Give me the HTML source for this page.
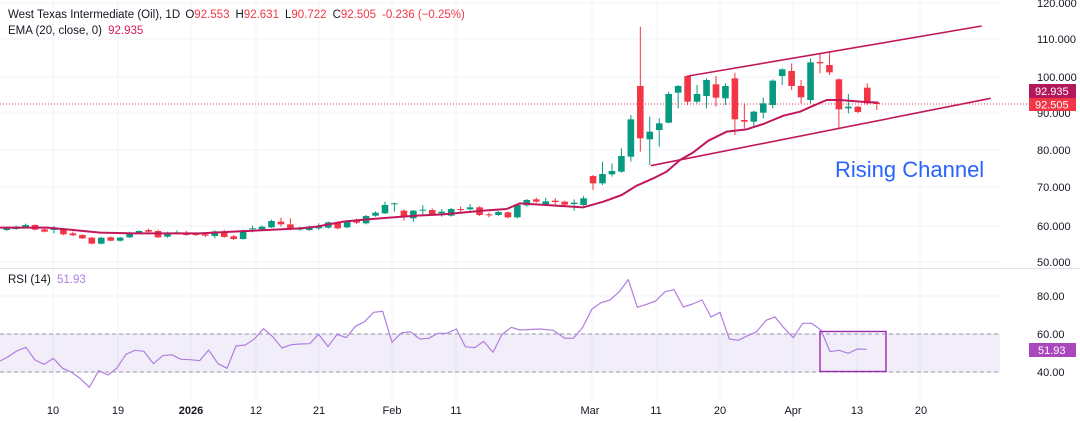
<!DOCTYPE html>
<html><head><meta charset="utf-8">
<style>
html,body{margin:0;padding:0;background:#fff;}
body{width:1080px;height:423px;overflow:hidden;position:relative;font-family:"Liberation Sans",sans-serif;}
svg{position:absolute;left:0;top:0;}
text{font-family:"Liberation Sans",sans-serif;}
</style></head><body>
<svg id="s" width="1080" height="423" viewBox="0 0 1080 423">
<rect width="1080" height="423" fill="#fff"/>
<g id="grid" stroke="#f0f3fa" stroke-width="1"></g>
<line x1="0" y1="268.5" x2="1080" y2="268.5" stroke="#e0e3eb"/>
<rect x="0" y="334" width="1000" height="38" fill="#7e57c2" fill-opacity="0.1"/>
<line x1="0" y1="334" x2="1000" y2="334" stroke="#9598a1" stroke-dasharray="4,3"/>
<line x1="0" y1="372" x2="1000" y2="372" stroke="#9598a1" stroke-dasharray="4,3"/>
<line x1="0" y1="104" x2="1030" y2="104" stroke="#f23645" stroke-dasharray="1,2" stroke-width="1"/>
<g id="candles"></g>
<polyline id="ema" fill="none" stroke="#c2185b" stroke-width="2" stroke-linejoin="round"/>
<line x1="688.3" y1="76" x2="981.7" y2="26" stroke="#c2185b" stroke-width="1.6"/>
<line x1="650.7" y1="165.7" x2="990.7" y2="98.3" stroke="#c2185b" stroke-width="1.6"/>
<text x="835" y="177" font-size="22" fill="#2962ff">Rising Channel</text>
<polyline id="rsi" fill="none" stroke="#b07ee0" stroke-width="1.2" stroke-linejoin="round"/>
<rect x="820" y="331.5" width="66" height="40" fill="none" stroke="#9c27b0" stroke-width="1.4"/>
<g font-size="11" fill="#131722">
<text x="1037" y="7">120.000</text>
<text x="1037" y="43">110.000</text>
<text x="1037" y="81">100.000</text>
<text x="1037" y="117">90.000</text>
<text x="1037" y="154">80.000</text>
<text x="1037" y="191">70.000</text>
<text x="1037" y="230">60.000</text>
<text x="1037" y="266">50.000</text>
<text x="1037" y="300">80.00</text>
<text x="1037" y="338">60.00</text>
<text x="1037" y="376">40.00</text>
</g>
<rect x="1029" y="84" width="47" height="14" fill="#b2185a"/>
<text x="1035" y="95" font-size="11" fill="#fff">92.935</text>
<rect x="1029" y="98" width="47" height="13" fill="#f23645"/>
<text x="1035" y="108.5" font-size="11" fill="#fff">92.505</text>
<rect x="1029" y="343" width="47" height="14" fill="#ab47bc"/>
<text x="1038" y="354" font-size="11" fill="#fff">51.93</text>
<g font-size="11" fill="#131722" text-anchor="middle">
<text x="53" y="414">10</text>
<text x="118" y="414">19</text>
<text x="191" y="414" font-weight="bold">2026</text>
<text x="256" y="414">12</text>
<text x="319" y="414">21</text>
<text x="392" y="414">Feb</text>
<text x="456" y="414">11</text>
<text x="590" y="414">Mar</text>
<text x="656" y="414">11</text>
<text x="720" y="414">20</text>
<text x="793" y="414">Apr</text>
<text x="857" y="414">13</text>
<text x="921" y="414">20</text>
</g>
<g font-size="11.5">
<text x="8" y="18" fill="#131722">West Texas Intermediate (Oil), 1D <tspan dx="2">O</tspan><tspan fill="#f23645">92.553</tspan><tspan dx="6">H</tspan><tspan fill="#f23645">92.631</tspan><tspan dx="6">L</tspan><tspan fill="#f23645">90.722</tspan><tspan dx="6">C</tspan><tspan fill="#f23645">92.505</tspan><tspan dx="6" fill="#f23645">-0.236 (−0.25%)</tspan></text>
<text x="8" y="34" fill="#131722">EMA (20, close, 0) <tspan dx="3" fill="#d81b60">92.935</tspan></text>
<text x="8" y="283" fill="#131722">RSI (14) <tspan dx="3" fill="#b07ee0">51.93</tspan></text>
</g>
</svg>
<script>
(function(){
var NS="http://www.w3.org/2000/svg";
function el(t,a,p){var e=document.createElementNS(NS,t);for(var k in a)e.setAttribute(k,a[k]);p.appendChild(e);return e;}
var grid=document.getElementById('grid');
[53,118,191,256,319,392,456,592,657,720,793,857,920].forEach(function(x){el('line',{x1:x,y1:0,x2:x,y2:400},grid);});
[3,39,77,113,150,187,226,262,296,334,372].forEach(function(y){el('line',{x1:0,y1:y,x2:1000,y2:y},grid);});
var A=[[98,105,95,108,'g'],[95,102,92,104,'g'],[90,97,86,99,'g'],[90,104,88,106,'r'],[103,110,101,112,'r'],[97,105,93,115,'g'],[102,118,100,121,'r'],[115,121,110,123,'r'],[120,130,118,132,'r'],[128,146,126,148,'r'],[128,146,126,148,'g'],[127,137,124,139,'r'],[128,137,125,140,'g'],[113,127,110,129,'g'],[108,114,106,116,'g'],[105,110,101,112,'r'],[108,127,104,129,'r'],[115,125,110,128,'g'],[112,115,106,118,'g'],[113,120,108,122,'r'],[117,120,114,123,'r'],[118,122,114,126,'r'],[109,123,106,130,'g'],[110,126,104,128,'r'],[124,132,120,135,'r'],[106,132,104,134,'g'],[100,103,92,112,'g'],[95,103,92,106,'g'],[78,97,74,99,'g'],[80,88,68,95,'r'],[88,103,70,106,'r'],[98,104,95,107,'g']];
var B=[[200,210,197,213,'g'],[200,205,190,210,'g'],[187,203,184,206,'g'],[187,205,184,208,'r'],[183,202,180,205,'g'],[182,188,176,192,'r'],[168,190,165,193,'g'],[158,167,154,170,'g'],[135,160,125,162,'g'],[130,133,128,155,'g'],[152,172,148,182,'r'],[152,175,150,185,'g'],[149,152,136,165,'g'],[150,162,145,166,'r'],[155,160,147,170,'g'],[147,167,144,170,'g'],[147,150,140,156,'r'],[142,148,132,151,'g'],[142,165,139,168,'r'],[163,166,158,172,'r'],[156,165,153,168,'g'],[157,172,154,175,'r'],[135,172,132,175,'g'],[120,136,117,140,'g'],[118,125,113,128,'r'],[124,133,113,136,'g'],[122,126,114,134,'r'],[125,134,122,137,'r']];
var C=[[548,552,538,572,'g'],[535,555,528,558,'g'],[468,490,465,510,'r'],[462,490,425,495,'g'],[453,463,430,470,'g'],[408,455,385,458,'g'],[298,410,285,425,'g'],[198,355,20,395,'r'],[335,358,290,435,'g'],[310,330,295,380,'g'],[222,308,215,310,'g'],[198,218,195,265,'g'],[168,245,165,255,'r'],[222,245,195,250,'g'],[180,228,175,265,'g'],[193,233,168,260,'r'],[198,235,190,255,'g'],[175,298,158,345,'r'],[300,305,250,325,'r'],[275,305,272,320,'g'],[250,278,233,295,'g'],[182,255,178,265,'g'],[148,168,145,195,'g'],[153,198,130,210,'r'],[198,232,180,250,'r'],[127,240,115,250,'g'],[126,130,100,160,'r'],[135,157,95,165,'r'],[178,268,175,325,'r'],[260,265,222,280,'g'],[260,276,258,280,'r'],[203,250,190,255,'r'],[248,252,245,270,'r']];
var all=[];
A.forEach(function(c){all.push(c.slice(0,4).map(function(v){return 195+v/3;}).concat([c[4]]));});
B.forEach(function(c){all.push(c.slice(0,4).map(function(v){return 160+v/3;}).concat([c[4]]));});
C.forEach(function(c){all.push(c.slice(0,4).map(function(v){return 20+v/3;}).concat([c[4]]));});
var g=document.getElementById('candles');
all.forEach(function(c,i){
 var x=6.7+i*9.457, col=c[4]=='g'?'#089981':'#f23645';
 el('line',{x1:x,y1:c[2],x2:x,y2:c[3],stroke:col,'stroke-width':1},g);
 el('rect',{x:x-3.3,y:c[0],width:6.6,height:Math.max(1,c[1]-c[0]),fill:col},g);
});
var e1=[[0,143],[140,143],[200,148],[300,158],[400,160],[600,160],[700,155],[900,145],[950,140],[1030,125],[1100,118],[1250,107],[1330,103],[1450,92],[1520,87],[1560,70]].map(function(p){return (p[0]/3)+','+(180+p[1]/3);});
var e2=[[70,562],[130,545],[185,525],[230,497],[280,475],[320,455],[360,420],[400,397],[445,362],[500,335],[560,328],[610,312],[670,287],[720,275],[760,257],[800,240],[840,240],[900,245],[955,248]].map(function(p){return (560+p[0]/3)+','+(20+p[1]/3);});
document.getElementById('ema').setAttribute('points',e1.concat(e2).join(' '));
var r1=[[0,288],[25,275],[50,258],[78,247],[105,285],[132,298],[160,280],[188,310],[215,322],[240,340],[268,367],[296,317],[324,330],[350,310],[378,268],[405,256],[432,259],[460,296],[488,272],[515,269],[543,283],[571,284],[599,287],[626,255],[654,296],[681,310],[708,243],[736,240],[763,222],[791,191],[818,215],[846,249],[874,239],[901,237],[929,236],[956,208],[984,245],[1011,208],[1039,218],[1066,184],[1094,170],[1121,142],[1148,139],[1176,232],[1204,204],[1231,200],[1259,222],[1286,220],[1314,205],[1341,205],[1369,192],[1396,245],[1424,248],[1451,229],[1479,262],[1506,208],[1534,187],[1560,195]].map(function(p){return (p[0]/3)+','+(265+p[1]/3);});
var r2=[[0,192],[40,196],[75,220],[100,220],[128,187],[155,133],[183,113],[210,105],[238,80],[265,44],[292,127],[320,118],[347,108],[375,80],[402,74],[430,126],[458,117],[486,105],[513,156],[540,142],[568,222],[595,226],[623,212],[650,200],[678,166],[705,156],[733,190],[760,218],[788,175],[815,175],[843,195],[870,260],[897,256],[925,265],[952,252],[980,253]].map(function(p){return (540+p[0]/3)+','+(265+p[1]/3);});
document.getElementById('rsi').setAttribute('points',r1.concat(r2).join(' '));
})();
</script>
</body></html>
